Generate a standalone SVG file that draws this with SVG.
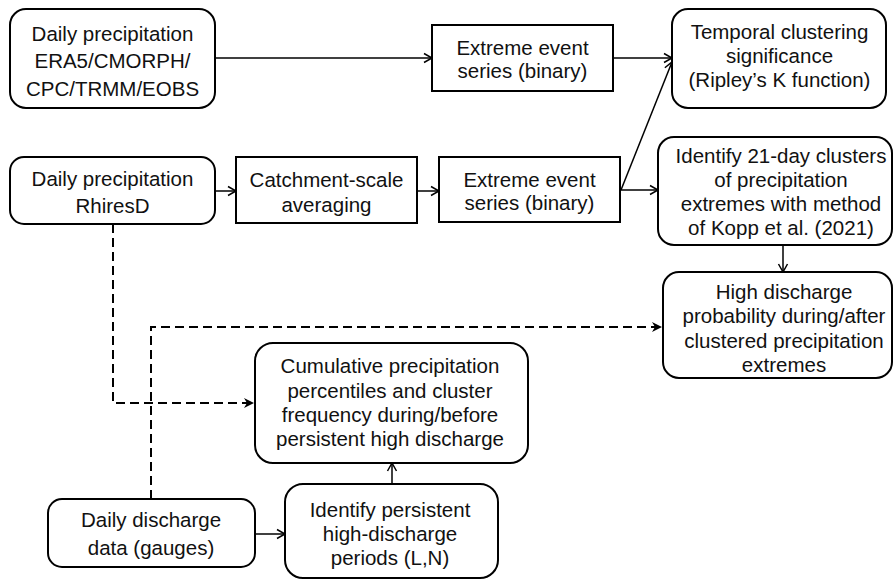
<svg xmlns="http://www.w3.org/2000/svg" width="894" height="579" viewBox="0 0 894 579">
<style>
.box{fill:#fff;stroke:#000;stroke-width:2}
.t{font-family:"Liberation Sans",Arial,sans-serif;font-size:20.5px;fill:#111;text-anchor:middle}
.c{fill:none;stroke:#000;stroke-width:1.5}
.d{fill:none;stroke:#000;stroke-width:2;stroke-dasharray:9 5}
</style>
<defs>
<marker id="open" markerUnits="userSpaceOnUse" markerWidth="12" markerHeight="12" viewBox="0 0 12 12" refX="10" refY="6" orient="auto">
<path d="M2,1.5 L10,6 L2,10.5" fill="none" stroke="#000" stroke-width="1.5"/>
</marker>
<marker id="solid" markerUnits="userSpaceOnUse" markerWidth="12" markerHeight="12" viewBox="0 0 12 12" refX="11" refY="6" orient="auto">
<path d="M1,1 L11,6 L1,11 L4,6 z" fill="#000"/>
</marker>
</defs>

<g id="connectors">
<line class="c" x1="215" y1="58" x2="432" y2="58" marker-end="url(#open)"/>
<line class="c" x1="613" y1="58" x2="672" y2="58" marker-end="url(#open)"/>
<line class="c" x1="215" y1="191" x2="236" y2="191" marker-end="url(#open)"/>
<line class="c" x1="417" y1="191" x2="439" y2="191" marker-end="url(#open)"/>
<line class="c" x1="621" y1="190" x2="672" y2="62" marker-end="url(#open)"/>
<line class="c" x1="621" y1="190" x2="658" y2="190" marker-end="url(#open)"/>
<line class="c" x1="783" y1="245" x2="783" y2="272" marker-end="url(#open)"/>
<line class="c" x1="392" y1="484" x2="392" y2="463" marker-end="url(#open)"/>
<line class="c" x1="255" y1="534" x2="285" y2="534" marker-end="url(#open)"/>
<polyline class="d" points="113,224 113,403 254,403" marker-end="url(#solid)"/>
<polyline class="d" points="151,499 151,327 662,327" marker-end="url(#solid)"/>
</g>

<g id="n-era5">
<rect class="box" x="10" y="9" width="205" height="99" rx="16"/>
<text class="t" x="112.5" y="41">Daily precipitation</text>
<text class="t" x="112.5" y="68">ERA5/CMORPH/</text>
<text class="t" x="112.5" y="95.5">CPC/TRMM/EOBS</text>
</g>

<g id="n-extreme1">
<rect class="box" x="432" y="25" width="181" height="66"/>
<text class="t" x="522.5" y="55">Extreme event</text>
<text class="t" x="522.5" y="78">series (binary)</text>
</g>

<g id="n-temporal">
<rect class="box" x="672" y="9" width="214" height="99" rx="16"/>
<text class="t" x="779.5" y="39">Temporal clustering</text>
<text class="t" x="779.5" y="63">significance</text>
<text class="t" x="779.5" y="87">(Ripley’s K function)</text>
</g>

<g id="n-rhiresd">
<rect class="box" x="10" y="157" width="205" height="67" rx="14"/>
<text class="t" x="112.5" y="186">Daily precipitation</text>
<text class="t" x="112.5" y="213">RhiresD</text>
</g>

<g id="n-catchment">
<rect class="box" x="236" y="157" width="181" height="66"/>
<text class="t" x="326.5" y="187">Catchment-scale</text>
<text class="t" x="326.5" y="212">averaging</text>
</g>

<g id="n-extreme2">
<rect class="box" x="439" y="157" width="181" height="65"/>
<text class="t" x="529.5" y="187">Extreme event</text>
<text class="t" x="529.5" y="210">series (binary)</text>
</g>

<g id="n-identify21">
<rect class="box" x="658" y="137" width="234" height="108" rx="16"/>
<text class="t" x="781" y="162.5">Identify 21-day clusters</text>
<text class="t" x="781" y="186.8">of precipitation</text>
<text class="t" x="781" y="211">extremes with method</text>
<text class="t" x="781" y="235">of Kopp et al. (2021)</text>
</g>

<g id="n-highq">
<rect class="box" x="663" y="272" width="229" height="106" rx="16"/>
<text class="t" x="784" y="299">High discharge</text>
<text class="t" x="784" y="323">probability during/after</text>
<text class="t" x="784" y="347.5">clustered precipitation</text>
<text class="t" x="784" y="371.5">extremes</text>
</g>

<g id="n-cumulative">
<rect class="box" x="255" y="343" width="273" height="120" rx="18"/>
<text class="t" x="390" y="373">Cumulative precipitation</text>
<text class="t" x="390" y="397.5">percentiles and cluster</text>
<text class="t" x="390" y="421.7">frequency during/before</text>
<text class="t" x="390" y="446">persistent high discharge</text>
</g>

<g id="n-discharge">
<rect class="box" x="48" y="499" width="207" height="68" rx="14"/>
<text class="t" x="151" y="527">Daily discharge</text>
<text class="t" x="151" y="555">data (gauges)</text>
</g>

<g id="n-persistent">
<rect class="box" x="285" y="484" width="213" height="94" rx="18"/>
<text class="t" x="390" y="517">Identify persistent</text>
<text class="t" x="390" y="541">high-discharge</text>
<text class="t" x="390" y="565">periods (L,N)</text>
</g>
</svg>
